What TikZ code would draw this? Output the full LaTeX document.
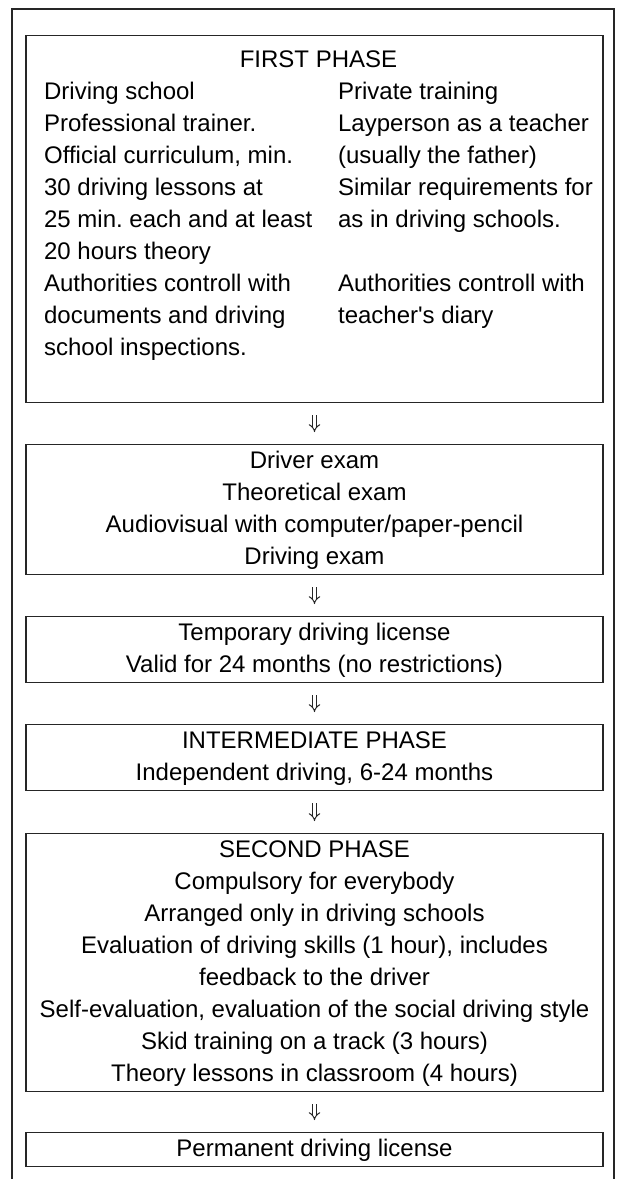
\documentclass[tikz,border=0pt]{standalone}
\usepackage{fontspec}
\setmainfont{Liberation Sans}
\usetikzlibrary{arrows.meta}
\frenchspacing

\begin{document}
\begin{tikzpicture}[x=0.5pt, y=-0.5pt,
    stage/.style={draw=black!85, line width=0.6pt, minimum width=288.5pt,
      inner xsep=0pt, inner ysep=0.5pt, anchor=north,
      font=\fontsize{12}{16}\selectfont},
    next/.style={draw=black!85, line width=0.5pt, double, double distance=1.5pt,
      -{Implies}, shorten <=6pt, shorten >=6pt}]
          \useasboundingbox (0, 0) rectangle (617, 1179);
          % page frame
          \draw[black!85, line width=0.6pt] (12, 1179) -- (12, 9) -- (614, 9) -- (614, 1179);

          \node[stage, inner ysep=4.5pt] (first) at (314.5, 35) {%
            \begin{tabular}{@{\hspace{4pt}}p{147pt}@{}l@{}}
              \multicolumn{2}{c}{\hspace{4pt}FIRST PHASE}\\
              Driving school & Private training\\
              Professional trainer. & Layperson as a teacher\\
              Official curriculum, min. & (usually the father)\\
              30 driving lessons at & Similar requirements for\\
              25 min. each and at least & as in driving schools.\\
              20 hours theory & \\
              Authorities controll with & Authorities controll with\\
              documents and driving & teacher\textquotesingle s diary\\
              school inspections. & \\[14.5pt]
            \end{tabular}};

          \node[stage] (exam) at (314.5, 444) {\begin{tabular}{c}
            Driver exam\\ Theoretical exam\\
            Audiovisual with computer/paper-pencil\\ Driving exam
            \end{tabular}};
          \node[stage] (temp) at (314.5, 616) {\begin{tabular}{c}
            Temporary driving license\\
            Valid for 24 months (no restrictions)
            \end{tabular}};
          \node[stage] (inter) at (314.5, 724) {\begin{tabular}{c}
            INTERMEDIATE PHASE\\
            Independent driving, 6-24 months
            \end{tabular}};
          \node[stage] (second) at (314.5, 833) {\begin{tabular}{c}
            SECOND PHASE\\
            Compulsory for everybody\\
            Arranged only in driving schools\\
            Evaluation of driving skills (1 hour), includes\\
            feedback to the driver\\
            Self-evaluation, evaluation of the social driving style\\
            Skid training on a track (3 hours)\\
            Theory lessons in classroom (4 hours)
            \end{tabular}};
          \node[stage] (perm) at (314.5, 1132) {\begin{tabular}{c}
            Permanent driving license
            \end{tabular}};

          \draw[next] (first) -- (exam);
          \draw[next] (exam) -- (temp);
          \draw[next] (temp) -- (inter);
          \draw[next] (inter) -- (second);
          \draw[next] (second) -- (perm);
        \end{tikzpicture}
\end{document}
